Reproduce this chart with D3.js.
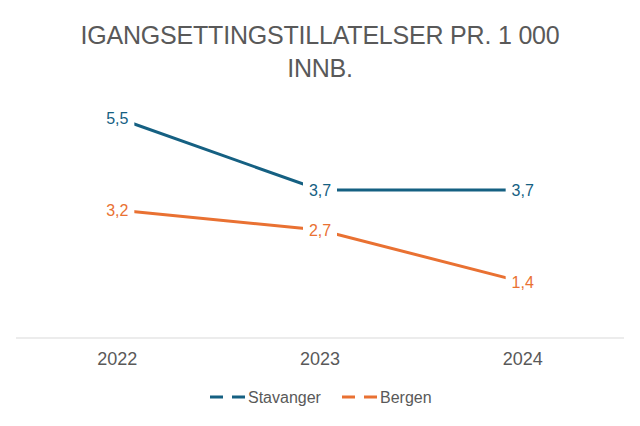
<!DOCTYPE html>
<html>
<head>
<meta charset="utf-8">
<script src="https://cdn.jsdelivr.net/npm/d3@7"></script>
<style>
  html, body { margin: 0; padding: 0; background: #fff; }
  #chart { width: 640px; height: 426px; }
  text { font-family: "Liberation Sans", Arial, sans-serif; }
</style>
</head>
<body>
<div id="chart"></div>
<script>
// chart data
const years = ["2022", "2023", "2024"];
const seriesNames = ["Stavanger", "Bergen"];
const stavanger = [5.5, 3.7, 3.7];
const bergen = [3.2, 2.7, 1.4];
const titleLines = ["IGANGSETTINGSTILLATELSER PR. 1 000", "INNB."];

const colors = ["#156082", "#E97132"];
const width = 640, height = 426;

const svg = d3.select("#chart")
    .append("svg")
    .attr("width", width)
    .attr("height", height);

// title
svg.append("text")
    .attr("x", 320)
    .attr("y", 44)
    .attr("text-anchor", "middle")
    .style("font-size", "25px")
    .style("letter-spacing", "-0.2px")
    .style("fill", "#595959")
    .selectAll("tspan")
    .data(titleLines)
    .enter()
    .append("tspan")
    .attr("x", 320)
    .attr("dy", (d, i) => i === 0 ? 0 : 33)
    .text(d => d);

const x = d3.scaleBand()
    .domain(years)
    .range([16, 624])
    .padding(0);

const y = d3.scaleLinear()
    .domain([0, 6])
    .range([338, 98]);

// baseline
svg.append("line")
    .attr("x1", 16).attr("x2", 624)
    .attr("y1", y(0)).attr("y2", y(0))
    .attr("stroke", "#d9d9d9")
    .attr("stroke-width", 1);

// x axis labels
const xAxis = d3.axisBottom(x).tickSize(0).tickPadding(0);
const axisG = svg.append("g")
    .attr("transform", `translate(0, ${y(0) + 14})`)
    .call(xAxis);
axisG.select(".domain").remove();
axisG.selectAll("text")
    .attr("dy", "0.71em")
    .style("font-size", "18px")
    .style("fill", "#595959")
    .style("font-family", "\"Liberation Sans\", Arial, sans-serif");

const series = [
    { name: seriesNames[0], values: stavanger, color: colors[0] },
    { name: seriesNames[1], values: bergen, color: colors[1] }
];

const cx = d => x(d) + x.bandwidth() / 2;
const fmt = v => d3.format(".1f")(v).replace(".", ",");

const line = d3.line()
    .x((d, i) => cx(years[i]))
    .y(d => y(d));

series.forEach(s => {
    svg.append("path")
        .datum(s.values)
        .attr("fill", "none")
        .attr("stroke", s.color)
        .attr("stroke-width", 3)
        .attr("d", line);
});

// data labels with white backing to mask the line
series.forEach(s => {
    const g = svg.append("g");
    s.values.forEach((v, i) => {
        g.append("rect")
            .attr("x", cx(years[i]) - 17)
            .attr("y", y(v) - 10)
            .attr("width", 34)
            .attr("height", 20)
            .attr("fill", "#fff");
        g.append("text")
            .attr("x", cx(years[i]))
            .attr("y", y(v))
            .attr("dy", "0.35em")
            .attr("text-anchor", "middle")
            .style("font-size", "16px")
            .style("fill", s.color)
            .text(fmt(v));
    });
});

// legend
const legendItems = [
    { name: seriesNames[0], color: colors[0], x: 210 },
    { name: seriesNames[1], color: colors[1], x: 342 }
];
const legendY = 397;
legendItems.forEach(item => {
    const g = svg.append("g").attr("transform", `translate(${item.x}, ${legendY})`);
    g.append("line")
        .attr("x1", 0).attr("x2", 38)
        .attr("y1", 0).attr("y2", 0)
        .attr("stroke", item.color)
        .attr("stroke-width", 3)
        .attr("stroke-dasharray", "13,9");
    g.append("text")
        .attr("x", 38)
        .attr("y", 0)
        .attr("dy", "0.35em")
        .style("font-size", "16px")
        .style("fill", "#595959")
        .text(item.name);
});
</script>
</body>
</html>
